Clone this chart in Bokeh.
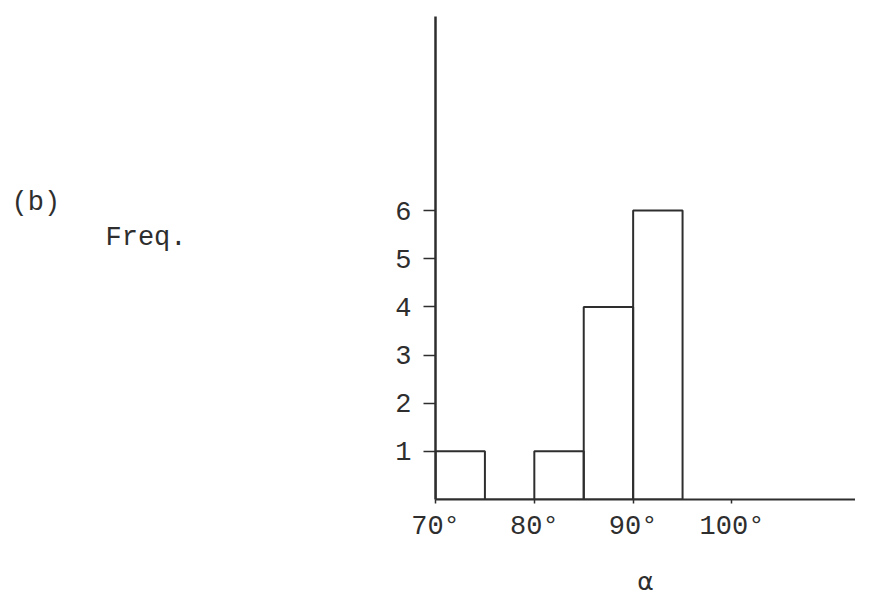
from bokeh.plotting import figure
from bokeh.layouts import row
from bokeh.models import FixedTicker
from bokeh.core.properties import value
from bokeh.embed import file_html
from bokeh.resources import INLINE

# Histogram data: angle bins (degrees) and frequencies
bin_left = [70, 75, 80, 85, 90]
bin_right = [75, 80, 85, 90, 95]
freq = [1, 0, 1, 4, 6]

x_ticks = [70, 80, 90, 100]
x_tick_labels = ["70°", "80°", "90°", "100°"]
y_ticks = [1, 2, 3, 4, 5, 6]

# side annotations of the panel
side_texts = ["(b)", "Freq."]
side_x = [11, 105]
side_y = [202, 237]

FONT = "Liberation Mono"
INK = "#2e2e2e"
H = 599
LEFT_W = 380
MAIN_W = 855 - LEFT_W
FRAME_TOP = 16
FRAME_BOTTOM = 499

# ---- left panel holding the "(b)" and "Freq." texts (frame aligned with main) ----
left = figure(width=LEFT_W, height=H, x_range=(0, LEFT_W),
              y_range=(FRAME_BOTTOM, FRAME_TOP),
              output_backend="svg", toolbar_location=None,
              min_border=0, min_border_left=0, min_border_right=0,
              min_border_top=FRAME_TOP, min_border_bottom=H - FRAME_BOTTOM)
left.axis.visible = False
left.grid.visible = False
left.outline_line_color = None
left.text(x=side_x, y=side_y, text=side_texts, text_font=value(FONT),
          text_font_size="27px", text_color=INK,
          text_baseline="middle", text_align="left")

# ---- main histogram ----
p = figure(width=MAIN_W, height=H, x_range=(70, 112.5), y_range=(0, 10.03),
           output_backend="svg", toolbar_location=None,
           min_border_left=435 - LEFT_W, min_border_right=0,
           min_border_top=FRAME_TOP, min_border_bottom=H - FRAME_BOTTOM)

p.quad(left=bin_left, right=bin_right, bottom=0, top=freq,
       fill_color=None, line_color=INK, line_width=2)

p.grid.visible = False
p.outline_line_color = None

xa = p.xaxis[0]
xa.ticker = FixedTicker(ticks=x_ticks)
xa.major_label_overrides = {t: l for t, l in zip(x_ticks, x_tick_labels)}
xa.minor_tick_line_color = None
xa.major_tick_out = 4
xa.major_tick_in = 0
xa.major_tick_line_width = 1.5
xa.major_tick_line_color = INK
xa.axis_line_width = 2
xa.axis_line_color = INK
xa.major_label_text_font = FONT
xa.major_label_text_font_size = "27px"
xa.major_label_text_color = INK
xa.major_label_standoff = 8
xa.axis_label = "α"
xa.axis_label_text_font = "DejaVu Sans"
xa.axis_label_text_font_style = "normal"
xa.axis_label_text_font_size = "25px"
xa.axis_label_text_color = INK
xa.axis_label_standoff = 22

ya = p.yaxis[0]
ya.ticker = FixedTicker(ticks=y_ticks)
ya.minor_tick_line_color = None
ya.major_tick_out = 12
ya.major_tick_in = 0
ya.major_tick_line_width = 1.5
ya.major_tick_line_color = INK
ya.axis_line_width = 2.5
ya.axis_line_color = INK
ya.major_label_text_font = FONT
ya.major_label_text_font_size = "27px"
ya.major_label_text_color = INK
ya.major_label_standoff = 12

layout = row(left, p, spacing=0)
open("out.html", "w").write(file_html(layout, INLINE))
